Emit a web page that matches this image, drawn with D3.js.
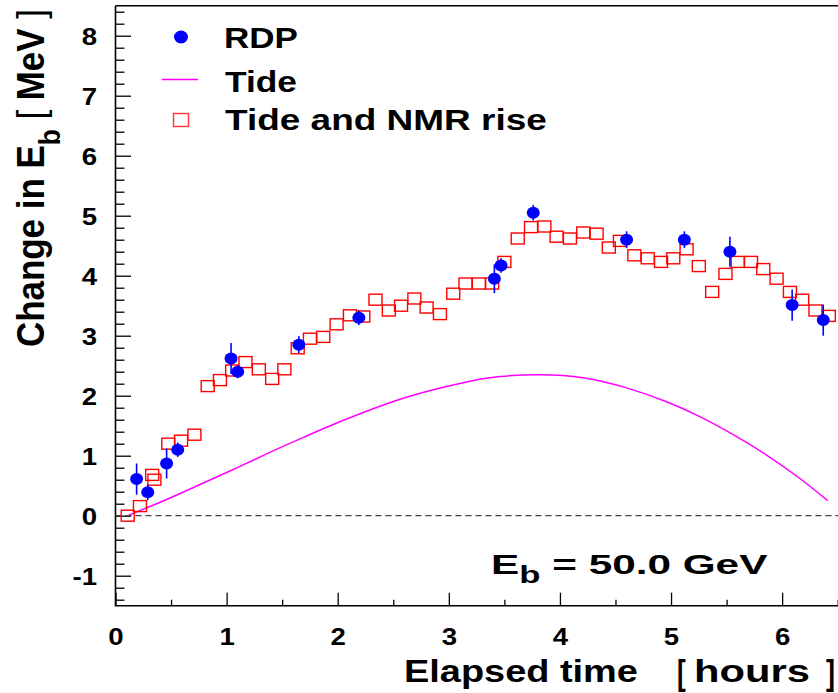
<!DOCTYPE html>
<html><head><meta charset="utf-8">
<script src="https://cdn.jsdelivr.net/npm/d3@7"></script>
<style>
body{margin:0;background:#fff}
svg{display:block}
text{font-family:"Liberation Sans",Arial,Helvetica,sans-serif;font-weight:bold;fill:#000}
</style>
</head><body>
<svg id="c" width="838" height="693"></svg>
<script>
// ---------- data ----------
const rdpTime  = [0.19,0.29,0.46,0.56,1.04,1.10,1.65,2.19,3.41,3.47,3.76,4.60,5.12,5.53,6.09,6.37];
const rdpValue = [0.61,0.39,0.87,1.10,2.62,2.40,2.85,3.30,3.95,4.17,5.05,4.60,4.60,4.40,3.51,3.26];
const rdpError = [0.26,0.13,0.25,0.12,0.26,0.11,0.14,0.12,0.24,0.12,0.13,0.14,0.14,0.25,0.26,0.26];

const nmrTime  = [0.11,0.22,0.33,0.35,0.475,0.59,0.71,0.83,0.94,1.05,1.17,1.29,1.41,1.52,1.64,1.75,1.87,1.99,2.11,2.23,2.34,2.46,2.57,2.69,2.80,2.92,3.04,3.15,3.27,3.39,3.50,3.62,3.74,3.86,3.97,4.09,4.21,4.33,4.44,4.54,4.67,4.79,4.91,5.02,5.14,5.25,5.37,5.49,5.60,5.72,5.83,5.95,6.07,6.18,6.30,6.42];
const nmrValue = [0.00,0.16,0.68,0.60,1.20,1.25,1.35,2.16,2.26,2.42,2.56,2.44,2.28,2.44,2.79,2.95,2.98,3.19,3.34,3.32,3.60,3.42,3.50,3.62,3.47,3.36,3.70,3.87,3.87,3.87,4.23,4.62,4.81,4.82,4.65,4.62,4.72,4.70,4.47,4.58,4.34,4.29,4.23,4.29,4.44,4.16,3.73,4.03,4.23,4.23,4.11,3.95,3.73,3.60,3.42,3.33];

const tideTime  = [0.12,0.46,0.76,1.06,1.36,1.66,1.96,2.26,2.56,2.86,3.16,3.46,3.82,4.21,4.60,4.96,5.26,5.56,5.86,6.16,6.41];
const tideValue = [0.01,0.27,0.52,0.77,1.03,1.28,1.52,1.74,1.94,2.10,2.23,2.32,2.35,2.30,2.13,1.90,1.65,1.35,1.01,0.62,0.25];

const xTickValues = [0,1,2,3,4,5,6];
const yTickValues = [-1,0,1,2,3,4,5,6,7,8];
const legendLabels = ["RDP","Tide","Tide and NMR rise"];

// ---------- layout ----------
const svg = d3.select("#c");
const X0 = 115.5, X1 = 837.7, Y0 = 605.7, Y1 = 5.7;
const x = d3.scaleLinear().domain([0,6.5]).range([X0,X1]);
const y = d3.scaleLinear().domain([-1.5,8.5]).range([Y0,Y1]);
const FONT = '"Liberation Sans",Arial,Helvetica,sans-serif';
const SX = 1.15;

function fitText(sel, tx, ty, targetW, sy, rot){
  const w = sel.node().getBBox().width;
  const sx = targetW / w;
  sel.attr("transform", `translate(${tx},${ty})` + (rot?` rotate(${rot})`:"") + ` scale(${sx},${sy})`);
}

// ---------- axes ----------
const minorX = d3.range(1,14).map(i=>i*0.5).filter(v=>!xTickValues.includes(v));
const minorY = d3.range(-7,43).map(i=>+(i*0.2).toFixed(1)).filter(v=>!yTickValues.includes(v));
const fmt = d => String(d);

const gx = svg.append("g").attr("transform",`translate(0,${Y0})`)
  .call(d3.axisBottom(x).tickValues(xTickValues).tickSizeInner(-13).tickSizeOuter(0).tickFormat(fmt));
const gxm = svg.append("g").attr("transform",`translate(0,${Y0})`)
  .call(d3.axisBottom(x).tickValues(minorX).tickSizeInner(-6).tickSizeOuter(0).tickFormat(""));
const gy = svg.append("g").attr("transform",`translate(${X0},0)`)
  .call(d3.axisLeft(y).tickValues(yTickValues).tickSizeInner(-15.5).tickSizeOuter(0).tickFormat(fmt));
const gym = svg.append("g").attr("transform",`translate(${X0},0)`)
  .call(d3.axisLeft(y).tickValues(minorY).tickSizeInner(-9).tickSizeOuter(0).tickFormat(""));

[gx,gxm,gy,gym].forEach(g=>{
  g.attr("font-family",FONT).attr("font-size",24);
  g.selectAll(".tick line").attr("stroke","#000").attr("stroke-width",1.3);
  g.select(".domain").remove();
});
gx.selectAll(".tick text").attr("y",0).attr("dy",0)
  .attr("transform",`translate(0,${645-Y0}) scale(${SX},1)`).attr("fill","#000");
gy.selectAll(".tick text").attr("x",0).attr("dy","0.36em").attr("text-anchor","end")
  .attr("transform",`translate(-18.5,0) scale(${SX},1)`).attr("fill","#000");

// frame (left, top, bottom)
svg.append("path")
  .attr("d",`M${X0},${Y1}V${Y0}H838 M${X0},${Y1}H838`)
  .attr("fill","none").attr("stroke","#000").attr("stroke-width",1.6);

// zero dashed line
svg.append("line")
  .attr("x1",X0).attr("x2",838).attr("y1",y(0)).attr("y2",y(0))
  .attr("stroke","#444").attr("stroke-width",1.3).attr("stroke-dasharray","6,4");

// ---------- tide curve ----------
const tidePts = tideTime.map((t,i)=>[t,tideValue[i]]);
svg.append("path").datum(tidePts)
  .attr("d", d3.line().x(d=>x(d[0])).y(d=>y(d[1])).curve(d3.curveNatural))
  .attr("fill","none").attr("stroke","#ff00ff").attr("stroke-width",1.5);

// ---------- tide + NMR squares ----------
const SQW = 13, SQH = 11;
svg.append("g").selectAll("rect").data(nmrTime.map((t,i)=>[t,nmrValue[i]])).join("rect")
  .attr("x",d=>x(d[0])-SQW/2).attr("y",d=>y(d[1])-SQH/2)
  .attr("width",SQW).attr("height",SQH)
  .attr("fill","none").attr("stroke","#ff0000").attr("stroke-width",1.4);

// ---------- RDP points ----------
const rdp = rdpTime.map((t,i)=>({t, v:rdpValue[i], e:rdpError[i]}));
const gr = svg.append("g");
gr.selectAll("line").data(rdp).join("line")
  .attr("x1",d=>x(d.t)).attr("x2",d=>x(d.t))
  .attr("y1",d=>y(d.v+d.e)).attr("y2",d=>y(d.v-d.e))
  .attr("stroke","#0000ff").attr("stroke-width",1.6);
gr.selectAll("ellipse").data(rdp).join("ellipse")
  .attr("cx",d=>x(d.t)).attr("cy",d=>y(d.v)).attr("rx",6.5).attr("ry",6)
  .attr("fill","#0000ff");

// ---------- legend ----------
const lg = svg.append("g");
lg.append("ellipse").attr("cx",181).attr("cy",37).attr("rx",7).attr("ry",6.5).attr("fill","#0000ff");
lg.append("line").attr("x1",162).attr("x2",198).attr("y1",79.5).attr("y2",79.5)
  .attr("stroke","#ff00ff").attr("stroke-width",1.5);
lg.append("rect").attr("x",181-7.5).attr("y",120-6.5).attr("width",15).attr("height",13)
  .attr("fill","none").attr("stroke","#ff3333").attr("stroke-width",1.4);
const legPos = [[224,48.3,74],[225,91.7,72],[225,130,322]];
legendLabels.forEach((s,i)=>{
  const t = lg.append("text").attr("font-size",30).text(s);
  fitText(t, legPos[i][0], legPos[i][1], legPos[i][2], 1);
});

// ---------- E_b label ----------
{
  const t = svg.append("text").attr("font-size",28);
  t.append("tspan").text("E");
  t.append("tspan").attr("font-size",23).attr("dy",9).text("b");
  t.append("tspan").attr("dy",-9).text(" = 50.0 GeV");
  fitText(t, 491, 573.5, 277, 1);
}

// ---------- axis titles ----------
{
  const t1 = svg.append("text").attr("font-size",32).text("Elapsed time");
  fitText(t1, 404, 682, 234, 1);
  const b1 = svg.append("text").attr("font-size",32).attr("font-weight","normal").text("[");
  fitText(b1, 677, 685, 9, 1.1);
  const t2 = svg.append("text").attr("font-size",32).text("hours");
  fitText(t2, 694, 682, 116, 1);
  const b2 = svg.append("text").attr("font-size",32).attr("font-weight","normal").text("]");
  fitText(b2, 826, 685, 9, 1.1);
}
{
  const t = svg.append("text").attr("font-size",32);
  t.append("tspan").text("Change in E");
  t.append("tspan").attr("font-size",24).attr("dy",13).text("b");
  t.append("tspan").attr("dy",-13).text("  ");
  t.append("tspan").attr("font-weight","normal").text("[");
  t.append("tspan").text(" MeV ");
  t.append("tspan").attr("font-weight","normal").text("]");
  fitText(t, 44, 347, 338, 1.2, -90);
}
</script>
</body></html>
